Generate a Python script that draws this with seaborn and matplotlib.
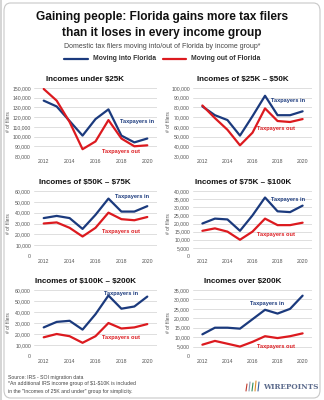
import matplotlib
matplotlib.use("Agg")
import matplotlib.pyplot as plt
from matplotlib.patches import FancyBboxPatch
from matplotlib.lines import Line2D
import seaborn as sns
import pandas as pd
import numpy as np

sns.set_theme(style="white")
plt.rcParams['font.family'] = ['Liberation Sans', 'DejaVu Sans']

years = [2012, 2013, 2014, 2015, 2016, 2017, 2018, 2019, 2020]

titles = ["Incomes under \\$25K", "Incomes of \\$25K \u2013 \\$50K",
          "Incomes of \\$50K \u2013 \\$75K", "Incomes of \\$75K \u2013 \\$100K",
          "Incomes of \\$100K \u2013 \\$200K", "Incomes over \\$200K"]

in_under25 = [137000, 131000, 116000, 101000, 118000, 128000, 101000, 94000, 98000]
out_under25 = [149000, 137000, 115000, 87000, 95000, 117000, 98000, 90000, 91000]
in_25_50 = [81000, 72000, 67000, 51000, 71000, 92000, 72000, 72000, 76000]
out_25_50 = [82000, 69000, 57000, 41000, 54000, 79000, 66000, 65000, 68000]
in_50_75 = [35000, 37000, 35000, 25000, 38000, 53000, 41000, 41000, 46000]
out_50_75 = [30000, 31000, 26000, 18000, 26000, 40000, 34000, 33000, 36000]
in_75_100 = [20000, 23000, 22500, 15500, 25000, 36000, 27500, 27000, 31000]
out_75_100 = [15500, 17000, 15000, 10000, 15000, 23000, 19000, 19000, 20500]
in_100_200 = [26000, 31000, 32000, 24000, 38000, 55000, 43000, 45000, 54000]
out_100_200 = [17000, 20000, 18000, 12000, 18000, 30000, 25000, 26000, 29000]
in_over200 = [11500, 15000, 15000, 14500, 19500, 24500, 22500, 25000, 32000]
out_over200 = [6000, 8000, 6500, 5000, 7500, 10500, 9500, 10500, 12000]

series_in = [in_under25, in_25_50, in_50_75, in_75_100, in_100_200, in_over200]
series_out = [out_under25, out_25_50, out_50_75, out_75_100, out_100_200, out_over200]

ylims = [(80000, 150000, 10000), (30000, 100000, 10000), (0, 60000, 10000),
         (0, 40000, 5000), (0, 60000, 10000), (0, 35000, 5000)]
label_in_pos = [(2019.2, 115000), (2018.85, 87000), (2018.85, 54500),
                (2018.8, 35000), (2018.0, 56400), (2017.2, 28100)]
label_out_pos = [(2018.0, 85000), (2017.9, 58600), (2018.0, 23000),
                 (2017.85, 13000), (2018.0, 16400), (2017.85, 5300)]

BLUE = "#1b3a7d"
RED = "#dc1a1f"
GRID = "#d9d9d9"
TICK = "#555555"

fig = plt.figure(figsize=(3.24, 4.0), dpi=100)
fig.patch.set_facecolor("white")

# frame
frame = FancyBboxPatch((4/324, 2/400), 316/324, 395/400,
                       boxstyle="round,pad=0,rounding_size=0.02",
                       transform=fig.transFigure, facecolor="none",
                       edgecolor="#c8c8c8", linewidth=0.8, zorder=0)
fig.patches.append(frame)
fig.patches.append(plt.Rectangle((0, 0), 2.0/324, 1, transform=fig.transFigure,
                                 facecolor="#d6d6d6", edgecolor="none", zorder=0))

fig.text(0.5, 1 - 17/400, "Gaining people: Florida gains more tax filers",
         ha="center", va="center", fontsize=8.6, fontweight="bold", color="#111111")
fig.text(0.5, 1 - 33/400, "than it loses in every income group",
         ha="center", va="center", fontsize=8.6, fontweight="bold", color="#111111")
fig.text(0.5, 1 - 47/400, "Domestic tax filers moving into/out of Florida by income group*",
         ha="center", va="center", fontsize=5.0, color="#444444")

# legend
ly = 1 - 59/400
fig.add_artist(Line2D([64/324, 88/324], [ly, ly], transform=fig.transFigure, color=BLUE, lw=1.6))
fig.text(93/324, ly, "Moving into Florida", ha="left", va="center", fontsize=4.9,
         fontweight="bold", color="#333333")
fig.add_artist(Line2D([163/324, 186/324], [ly, ly], transform=fig.transFigure, color=RED, lw=1.6))
fig.text(191/324, ly, "Moving out of Florida", ha="left", va="center", fontsize=4.9,
         fontweight="bold", color="#333333")

lefts = [34/324, 193/324]
width_l = 123/324
width_r = 119/324
rows = [(88, 156), (191, 256), (290, 356)]
title_x = [0.415, 0.42]

for i in range(6):
    r, c = divmod(i, 2)
    top, bot = rows[r]
    ax = fig.add_axes([lefts[c], 1 - bot/400, width_l if c == 0 else width_r, (bot - top)/400])
    df = pd.DataFrame({
        "year": years * 2,
        "filers": series_in[i] + series_out[i],
        "group": ["in"] * 9 + ["out"] * 9,
    })
    sns.lineplot(data=df, x="year", y="filers", hue="group",
                 palette={"in": BLUE, "out": RED}, linewidth=1.6,
                 legend=False, ax=ax)
    lo, hi, step = ylims[i]
    ax.set_ylim(lo, hi)
    ax.set_yticks(np.arange(lo, hi + 1, step))
    ax.set_yticklabels([f"{int(v):,}" for v in np.arange(lo, hi + 1, step)])
    ax.set_xlim(2011.25, 2020.75)
    ax.set_xticks([2012, 2014, 2016, 2018, 2020])
    ax.grid(axis="y", color=GRID, linewidth=0.6)
    ax.set_axisbelow(True)
    ax.patch.set_alpha(0)
    for s in ax.spines.values():
        s.set_visible(False)
    ax.tick_params(axis="both", length=0, labelsize=3.7, labelcolor=TICK, pad=2.2)
    ax.set_xlabel("")
    ax.set_ylabel("# of filers", fontsize=3.6, color=TICK)
    ax.yaxis.set_label_coords(-0.185, 0.5)
    ax.set_title(titles[i], fontsize=5.8, fontweight="bold", color="#111111",
                 pad=5, x=title_x[c])
    ax.text(*label_in_pos[i], "Taxpayers in", color=BLUE, fontsize=4.1,
            fontweight="bold", ha="center", va="center")
    ax.text(*label_out_pos[i], "Taxpayers out", color=RED, fontsize=4.1,
            fontweight="bold", ha="center", va="center")

# footer
fig.text(8/324, 1 - 377/400, "Source: IRS - SOI migration data", fontsize=3.7,
         color="#444444", ha="left", va="center")
fig.text(8/324, 1 - 384/400, "*An additional IRS income group of \\$1-\\$10K is included",
         fontsize=3.7, color="#444444", ha="left", va="center")
fig.text(8/324, 1 - 391/400, "in the \"Incomes of 25K and under\" group for simplicity.",
         fontsize=3.7, color="#444444", ha="left", va="center")

# logo
fig.text(263/324, 1 - 387/400, "WIREPOINTS", fontsize=5.2, fontweight="bold",
         family="DejaVu Serif", color="#5c6b8c", ha="left", va="center")
bars = [(246, "#c0392b", 7), (249, "#8a9bb5", 9), (252, "#2e8b57", 8),
        (255, "#e08e2b", 10), (258, "#3a5f9e", 9)]
for bx, col, h in bars:
    fig.add_artist(Line2D([bx/324, (bx + 1)/324], [1 - 391/400, 1 - (391 - h)/400],
                          transform=fig.transFigure, color=col, lw=0.8))

fig.savefig("out.png", dpi=100)
